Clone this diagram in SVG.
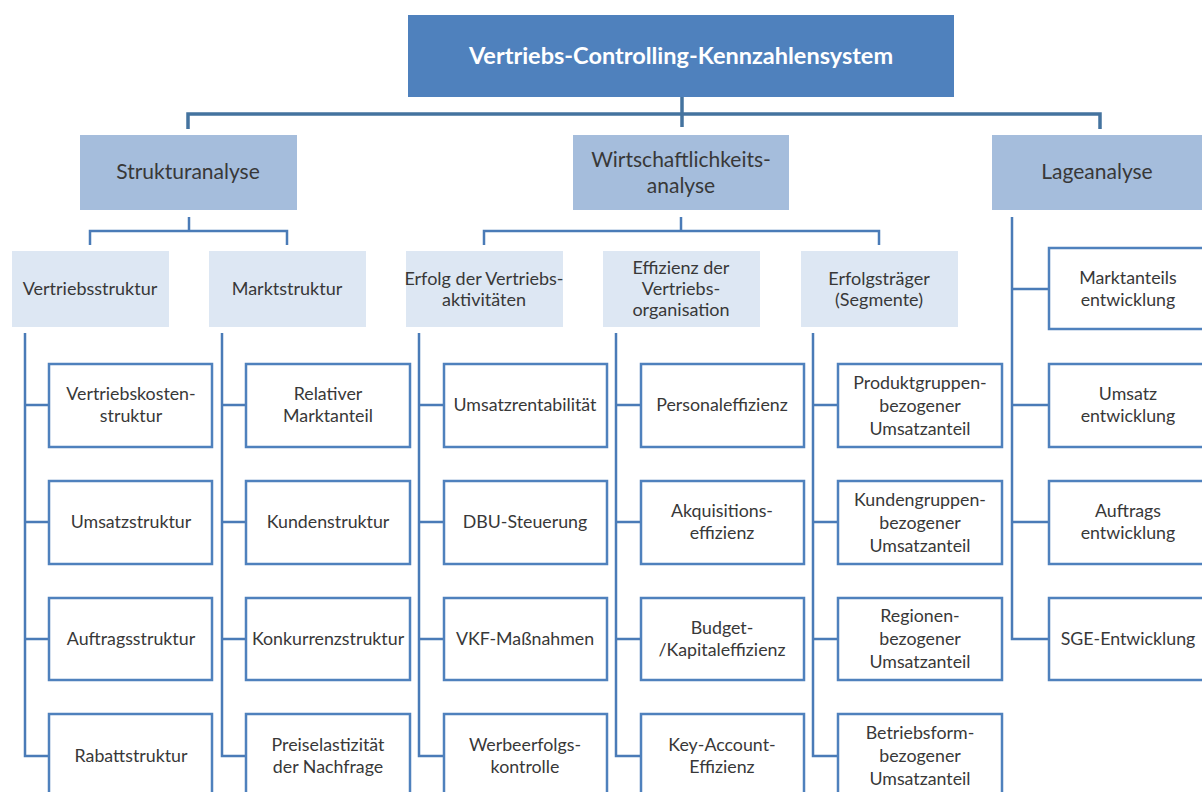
<svg xmlns="http://www.w3.org/2000/svg" width="1202" height="792" viewBox="0 0 1202 792">
<style>
.t{font-family:Lato,"Open Sans","Liberation Sans",sans-serif;fill:#383838;text-anchor:middle}
.top{fill:#4f81bd}
.l2{fill:#a5bddc}
.l3{fill:#dde7f3}
.leaf{fill:#ffffff;stroke:#4f81bd;stroke-width:2.5}
.c{fill:none;stroke:#4a7bb7;stroke-width:2.5}
.cm{fill:none;stroke:#44739f;stroke-width:3.5}
.s16{font-size:17.8px}
.s17{font-size:18px}
.s18{font-size:21px}
</style>
<rect width="1202" height="792" fill="#ffffff"/>
<g id="connectors">
<path class="cm" d="M682 97V127M188 129V114H1100V129"/>
<path class="c" d="M189 217V231M90 245V231H287V245"/>
<path class="c" d="M681 217V231M484 245V231H879V245"/>
<path class="c" d="M25 333V756H49M25 405H49M25 522H49M25 639H49"/>
<path class="c" d="M222 333V756H246M222 405H246M222 522H246M222 639H246"/>
<path class="c" d="M419 333V756H444M419 405H444M419 522H444M419 639H444"/>
<path class="c" d="M616 333V756H641M616 405H641M616 522H641M616 639H641"/>
<path class="c" d="M813 333V756H838M813 405H838M813 522H838M813 639H838"/>
<path class="c" d="M1012 217V639H1049M1012 289H1049M1012 405H1049M1012 522H1049"/>
</g>
<g id="n-root"><rect class="top" x="408" y="15" width="546" height="82"/><text class="t" x="681" y="64" style="font-size:23.5px;font-weight:bold;fill:#ffffff">Vertriebs-Controlling-Kennzahlensystem</text></g>
<g id="n-struktur"><rect class="l2" x="80" y="135" width="217" height="75"/><text class="t s18" x="188" y="179">Strukturanalyse</text></g>
<g id="n-wirtschaft"><rect class="l2" x="573" y="135" width="216" height="75"/><text class="t s18" x="681" y="167">Wirtschaftlichkeits-</text><text class="t s18" x="681" y="193">analyse</text></g>
<g id="n-lage"><rect class="l2" x="992" y="135" width="215" height="75"/><text class="t s18" x="1097" y="179">Lageanalyse</text></g>
<g id="n-vstruktur"><rect class="l3" x="12" y="251" width="157" height="76"/><text class="t s17" x="90" y="295">Vertriebsstruktur</text></g>
<g id="n-mstruktur"><rect class="l3" x="209" y="251" width="157" height="76"/><text class="t s17" x="287" y="295">Marktstruktur</text></g>
<g id="n-erfolg"><rect class="l3" x="406" y="251" width="157" height="76"/><text class="t s17" x="484" y="285">Erfolg der Vertriebs-</text><text class="t s17" x="484" y="306">aktivitäten</text></g>
<g id="n-effizienz"><rect class="l3" x="603" y="251" width="157" height="76"/><text class="t s17" x="681" y="274">Effizienz der</text><text class="t s17" x="681" y="295">Vertriebs-</text><text class="t s17" x="681" y="316">organisation</text></g>
<g id="n-erfolgstraeger"><rect class="l3" x="801" y="251" width="157" height="76"/><text class="t s17" x="879" y="285">Erfolgsträger</text><text class="t s17" x="879" y="306">(Segmente)</text></g>

<g id="n-c1r1"><rect class="leaf" x="49" y="364" width="163" height="83"/><text class="t s16" x="131" y="400">Vertriebskosten-</text><text class="t s16" x="131" y="422">struktur</text></g>
<g id="n-c1r2"><rect class="leaf" x="49" y="481" width="163" height="83"/><text class="t s16" x="131" y="528">Umsatzstruktur</text></g>
<g id="n-c1r3"><rect class="leaf" x="49" y="598" width="163" height="82"/><text class="t s16" x="131" y="645">Auftragsstruktur</text></g>
<g id="n-c1r4"><rect class="leaf" x="49" y="714" width="163" height="83"/><text class="t s16" x="131" y="762">Rabattstruktur</text></g>

<g id="n-c2r1"><rect class="leaf" x="246" y="364" width="164" height="83"/><text class="t s16" x="328" y="400">Relativer</text><text class="t s16" x="328" y="422">Marktanteil</text></g>
<g id="n-c2r2"><rect class="leaf" x="246" y="481" width="164" height="83"/><text class="t s16" x="328" y="528">Kundenstruktur</text></g>
<g id="n-c2r3"><rect class="leaf" x="246" y="598" width="164" height="82"/><text class="t s16" x="328" y="645">Konkurrenzstruktur</text></g>
<g id="n-c2r4"><rect class="leaf" x="246" y="714" width="164" height="83"/><text class="t s16" x="328" y="751">Preiselastizität</text><text class="t s16" x="328" y="773">der Nachfrage</text></g>

<g id="n-c3r1"><rect class="leaf" x="444" y="364" width="163" height="83"/><text class="t s16" x="525" y="411">Umsatzrentabilität</text></g>
<g id="n-c3r2"><rect class="leaf" x="444" y="481" width="163" height="83"/><text class="t s16" x="525" y="528">DBU-Steuerung</text></g>
<g id="n-c3r3"><rect class="leaf" x="444" y="598" width="163" height="82"/><text class="t s16" x="525" y="645">VKF-Maßnahmen</text></g>
<g id="n-c3r4"><rect class="leaf" x="444" y="714" width="163" height="83"/><text class="t s16" x="525" y="751">Werbeerfolgs-</text><text class="t s16" x="525" y="773">kontrolle</text></g>

<g id="n-c4r1"><rect class="leaf" x="641" y="364" width="163" height="83"/><text class="t s16" x="722" y="411">Personaleffizienz</text></g>
<g id="n-c4r2"><rect class="leaf" x="641" y="481" width="163" height="83"/><text class="t s16" x="722" y="517">Akquisitions-</text><text class="t s16" x="722" y="539">effizienz</text></g>
<g id="n-c4r3"><rect class="leaf" x="641" y="598" width="163" height="82"/><text class="t s16" x="722" y="634">Budget-</text><text class="t s16" x="722" y="656">/Kapitaleffizienz</text></g>
<g id="n-c4r4"><rect class="leaf" x="641" y="714" width="163" height="83"/><text class="t s16" x="722" y="751">Key-Account-</text><text class="t s16" x="722" y="773">Effizienz</text></g>

<g id="n-c5r1"><rect class="leaf" x="838" y="364" width="164" height="83"/><text class="t s16" x="920" y="389">Produktgruppen-</text><text class="t s16" x="920" y="412">bezogener</text><text class="t s16" x="920" y="435">Umsatzanteil</text></g>
<g id="n-c5r2"><rect class="leaf" x="838" y="481" width="164" height="83"/><text class="t s16" x="920" y="506">Kundengruppen-</text><text class="t s16" x="920" y="529">bezogener</text><text class="t s16" x="920" y="552">Umsatzanteil</text></g>
<g id="n-c5r3"><rect class="leaf" x="838" y="598" width="164" height="82"/><text class="t s16" x="920" y="622">Regionen-</text><text class="t s16" x="920" y="645">bezogener</text><text class="t s16" x="920" y="668">Umsatzanteil</text></g>
<g id="n-c5r4"><rect class="leaf" x="838" y="714" width="164" height="83"/><text class="t s16" x="920" y="739">Betriebsform-</text><text class="t s16" x="920" y="762">bezogener</text><text class="t s16" x="920" y="785">Umsatzanteil</text></g>

<g id="n-c6r1"><rect class="leaf" x="1049" y="248" width="163" height="81"/><text class="t s16" x="1128" y="284">Marktanteils</text><text class="t s16" x="1128" y="306">entwicklung</text></g>
<g id="n-c6r2"><rect class="leaf" x="1049" y="364" width="163" height="83"/><text class="t s16" x="1128" y="400">Umsatz</text><text class="t s16" x="1128" y="422">entwicklung</text></g>
<g id="n-c6r3"><rect class="leaf" x="1049" y="481" width="163" height="83"/><text class="t s16" x="1128" y="517">Auftrags</text><text class="t s16" x="1128" y="539">entwicklung</text></g>
<g id="n-c6r4"><rect class="leaf" x="1049" y="598" width="163" height="82"/><text class="t s16" x="1128" y="645">SGE-Entwicklung</text></g>
</svg>
